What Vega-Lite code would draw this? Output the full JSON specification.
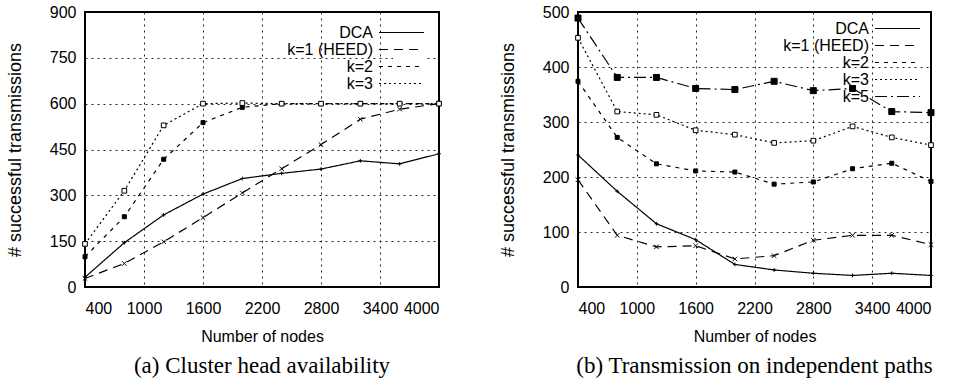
{
  "$schema": "https://vega.github.io/schema/vega-lite/v6.json",
  "padding": {"left": 5, "top": 3, "right": 5, "bottom": 5},
  "background": "white",
  "spacing": 53,
  "config": {
    "font": "Liberation Sans",
    "view": {"stroke": "black", "strokeWidth": 2},
    "axis": {
      "grid": true, "gridColor": "#000", "gridDash": [2, 4], "gridWidth": 1, "gridOpacity": 0.85,
      "domain": false, "ticks": false, "labelOverlap": false,
      "labelFontSize": 16, "labelColor": "#000", "labelPadding": 9, "labelFont": "Liberation Sans",
      "titleFontSize": 16, "titleFontWeight": "normal", "titleColor": "#000", "titleFont": "Liberation Sans"
    },
    "axisY": {"titleFontSize": 18, "titlePadding": 25},
    "axisX": {"titlePadding": 12, "labelPadding": 13, "format": "d"},
    "legend": {
      "title": null, "orient": "top-right", "offset": 9,
      "symbolType": "M-3,0H3", "symbolSize": 225, "symbolStrokeColor": "black", "symbolStrokeWidth": 1.2, "symbolFillColor": "transparent",
      "rowPadding": 0,
      "labelAlign": "right", "labelOffset": -37, "labelFontSize": 16, "labelColor": "#000", "labelFont": "Liberation Sans",
      "padding": 0
    },
    "point": {"stroke": "black", "strokeWidth": 1, "opacity": 1}
  },
  "datasets": {
    "left": [
      {"n": 400, "series": "DCA", "v": 32}, {"n": 800, "series": "DCA", "v": 145}, {"n": 1200, "series": "DCA", "v": 236}, {"n": 1600, "series": "DCA", "v": 304}, {"n": 2000, "series": "DCA", "v": 355}, {"n": 2400, "series": "DCA", "v": 372}, {"n": 2800, "series": "DCA", "v": 386}, {"n": 3200, "series": "DCA", "v": 413}, {"n": 3600, "series": "DCA", "v": 403}, {"n": 4000, "series": "DCA", "v": 436},
      {"n": 400, "series": "k=1 (HEED)", "v": 28}, {"n": 800, "series": "k=1 (HEED)", "v": 77}, {"n": 1200, "series": "k=1 (HEED)", "v": 148}, {"n": 1600, "series": "k=1 (HEED)", "v": 227}, {"n": 2000, "series": "k=1 (HEED)", "v": 308}, {"n": 2400, "series": "k=1 (HEED)", "v": 387}, {"n": 2800, "series": "k=1 (HEED)", "v": 466}, {"n": 3200, "series": "k=1 (HEED)", "v": 549}, {"n": 3600, "series": "k=1 (HEED)", "v": 582}, {"n": 4000, "series": "k=1 (HEED)", "v": 600},
      {"n": 400, "series": "k=2", "v": 99}, {"n": 800, "series": "k=2", "v": 230}, {"n": 1200, "series": "k=2", "v": 418}, {"n": 1600, "series": "k=2", "v": 538}, {"n": 2000, "series": "k=2", "v": 588}, {"n": 2400, "series": "k=2", "v": 600}, {"n": 2800, "series": "k=2", "v": 600}, {"n": 3200, "series": "k=2", "v": 600}, {"n": 3600, "series": "k=2", "v": 600}, {"n": 4000, "series": "k=2", "v": 600},
      {"n": 400, "series": "k=3", "v": 141}, {"n": 800, "series": "k=3", "v": 315}, {"n": 1200, "series": "k=3", "v": 529}, {"n": 1600, "series": "k=3", "v": 600}, {"n": 2000, "series": "k=3", "v": 602}, {"n": 2400, "series": "k=3", "v": 600}, {"n": 2800, "series": "k=3", "v": 600}, {"n": 3200, "series": "k=3", "v": 600}, {"n": 3600, "series": "k=3", "v": 600}, {"n": 4000, "series": "k=3", "v": 600}
    ],
    "right": [
      {"n": 400, "series": "DCA", "v": 240}, {"n": 800, "series": "DCA", "v": 174}, {"n": 1200, "series": "DCA", "v": 115}, {"n": 1600, "series": "DCA", "v": 86}, {"n": 2000, "series": "DCA", "v": 41}, {"n": 2400, "series": "DCA", "v": 31}, {"n": 2800, "series": "DCA", "v": 25}, {"n": 3200, "series": "DCA", "v": 21}, {"n": 3600, "series": "DCA", "v": 25}, {"n": 4000, "series": "DCA", "v": 21},
      {"n": 400, "series": "k=1 (HEED)", "v": 195}, {"n": 800, "series": "k=1 (HEED)", "v": 94}, {"n": 1200, "series": "k=1 (HEED)", "v": 73}, {"n": 1600, "series": "k=1 (HEED)", "v": 75}, {"n": 2000, "series": "k=1 (HEED)", "v": 51}, {"n": 2400, "series": "k=1 (HEED)", "v": 57}, {"n": 2800, "series": "k=1 (HEED)", "v": 85}, {"n": 3200, "series": "k=1 (HEED)", "v": 94}, {"n": 3600, "series": "k=1 (HEED)", "v": 94}, {"n": 4000, "series": "k=1 (HEED)", "v": 77},
      {"n": 400, "series": "k=2", "v": 374}, {"n": 800, "series": "k=2", "v": 272}, {"n": 1200, "series": "k=2", "v": 224}, {"n": 1600, "series": "k=2", "v": 211}, {"n": 2000, "series": "k=2", "v": 209}, {"n": 2400, "series": "k=2", "v": 187}, {"n": 2800, "series": "k=2", "v": 191}, {"n": 3200, "series": "k=2", "v": 215}, {"n": 3600, "series": "k=2", "v": 225}, {"n": 4000, "series": "k=2", "v": 192},
      {"n": 400, "series": "k=3", "v": 453}, {"n": 800, "series": "k=3", "v": 319}, {"n": 1200, "series": "k=3", "v": 313}, {"n": 1600, "series": "k=3", "v": 285}, {"n": 2000, "series": "k=3", "v": 277}, {"n": 2400, "series": "k=3", "v": 262}, {"n": 2800, "series": "k=3", "v": 266}, {"n": 3200, "series": "k=3", "v": 292}, {"n": 3600, "series": "k=3", "v": 272}, {"n": 4000, "series": "k=3", "v": 258},
      {"n": 400, "series": "k=5", "v": 489}, {"n": 800, "series": "k=5", "v": 381}, {"n": 1200, "series": "k=5", "v": 381}, {"n": 1600, "series": "k=5", "v": 361}, {"n": 2000, "series": "k=5", "v": 359}, {"n": 2400, "series": "k=5", "v": 374}, {"n": 2800, "series": "k=5", "v": 357}, {"n": 3200, "series": "k=5", "v": 361}, {"n": 3600, "series": "k=5", "v": 319}, {"n": 4000, "series": "k=5", "v": 317}
    ]
  },
  "resolve": {
    "scale": {"strokeDash": "independent"},
    "legend": {"strokeDash": "independent"}
  },
  "hconcat": [
    {
      "width": 354, "height": 275,
      "data": {"name": "left"},
      "title": {"text": "(a) Cluster head availability", "orient": "bottom", "font": "Liberation Serif", "fontSize": 23, "fontWeight": "normal", "color": "#000", "anchor": "middle", "offset": 11},
      "encoding": {
        "x": {"field": "n", "type": "quantitative", "title": "Number of nodes", "scale": {"domain": [400, 4000], "nice": false, "zero": false}, "axis": {"values": [400, 1000, 1600, 2200, 2800, 3400, 4000]}},
        "y": {"field": "v", "type": "quantitative", "title": "# successful transmissions", "scale": {"domain": [0, 900], "nice": false}, "axis": {"values": [0, 150, 300, 450, 600, 750, 900]}}
      },
      "layer": [
        {
          "mark": {"type": "line", "color": "black", "strokeWidth": 1.2},
          "encoding": {
            "strokeDash": {"field": "series", "type": "nominal", "scale": {"domain": ["DCA", "k=1 (HEED)", "k=2", "k=3"], "range": [[1, 0], [9, 6], [4, 5], [2, 3]]}, "legend": {"fillColor": "white", "offset": 12}}
          }
        },
        {"transform": [{"filter": "datum.series == 'DCA'"}], "mark": {"type": "point", "shape": "M-1,0L1,0M0,-1L0,1", "size": 14, "fill": "black"}},
        {"transform": [{"filter": "datum.series == 'k=1 (HEED)'"}], "mark": {"type": "point", "shape": "M-1,-1L1,1M-1,1L1,-1", "size": 20, "fill": "black"}},
        {"transform": [{"filter": "datum.series == 'k=2'"}], "mark": {"type": "point", "shape": "square", "size": 16, "fill": "black"}},
        {"transform": [{"filter": "datum.series == 'k=3'"}], "mark": {"type": "point", "shape": "square", "size": 22, "fill": "white"}}
      ]
    },
    {
      "width": 353, "height": 275,
      "data": {"name": "right"},
      "title": {"text": "(b) Transmission on independent paths", "orient": "bottom", "font": "Liberation Serif", "fontSize": 23, "fontWeight": "normal", "color": "#000", "anchor": "middle", "offset": 11},
      "encoding": {
        "x": {"field": "n", "type": "quantitative", "title": "Number of nodes", "scale": {"domain": [400, 4000], "nice": false, "zero": false}, "axis": {"values": [400, 1000, 1600, 2200, 2800, 3400, 4000]}},
        "y": {"field": "v", "type": "quantitative", "title": "# successful transmissions", "scale": {"domain": [0, 500], "nice": false}, "axis": {"values": [0, 100, 200, 300, 400, 500]}}
      },
      "layer": [
        {
          "mark": {"type": "line", "color": "black", "strokeWidth": 1.2},
          "encoding": {
            "strokeDash": {"field": "series", "type": "nominal", "scale": {"domain": ["DCA", "k=1 (HEED)", "k=2", "k=3", "k=5"], "range": [[1, 0], [9, 6], [4, 5], [2, 3], [12, 4, 2, 4]]}, "legend": {"offset": 8}}
          }
        },
        {"transform": [{"filter": "datum.series == 'DCA'"}], "mark": {"type": "point", "shape": "M-1,0L1,0M0,-1L0,1", "size": 14, "fill": "black"}},
        {"transform": [{"filter": "datum.series == 'k=1 (HEED)'"}], "mark": {"type": "point", "shape": "M-1,-1L1,1M-1,1L1,-1", "size": 20, "fill": "black"}},
        {"transform": [{"filter": "datum.series == 'k=2'"}], "mark": {"type": "point", "shape": "square", "size": 16, "fill": "black"}},
        {"transform": [{"filter": "datum.series == 'k=3'"}], "mark": {"type": "point", "shape": "square", "size": 22, "fill": "white"}},
        {"transform": [{"filter": "datum.series == 'k=5'"}], "mark": {"type": "point", "shape": "square", "size": 36, "fill": "black"}}
      ]
    }
  ]
}
